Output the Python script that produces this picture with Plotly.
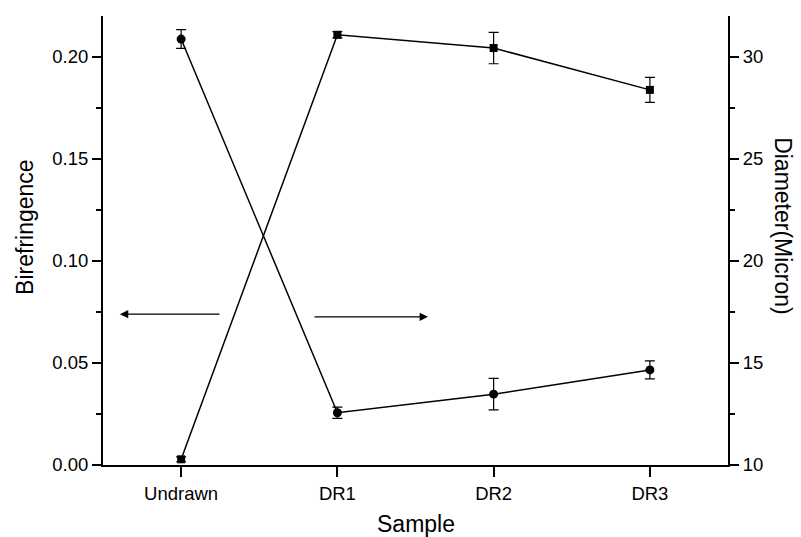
import plotly.graph_objects as go

# Samples along the drawing sequence
samples = ["Undrawn", "DR1", "DR2", "DR3"]

# Birefringence (left axis) with standard deviation
birefringence = [0.2087, 0.0256, 0.0347, 0.0466]
birefringence_err = [0.0046, 0.0028, 0.0077, 0.0044]

# Fibre diameter in microns (right axis) with standard deviation
diameter = [10.28, 31.08, 30.43, 28.38]
diameter_err = [0.12, 0.15, 0.77, 0.61]

FONT = "Liberation Sans, Arial, sans-serif"
TICK_FONT = dict(family=FONT, size=18.5, color="black")

fig = go.Figure()

fig.add_trace(go.Scatter(
    x=samples, y=birefringence, name="Birefringence",
    mode="lines+markers",
    line=dict(color="black", width=1.5),
    marker=dict(symbol="circle", size=9, color="black"),
    error_y=dict(type="data", array=birefringence_err, visible=True,
                 color="black", thickness=1.2, width=5),
    yaxis="y",
))

fig.add_trace(go.Scatter(
    x=samples, y=diameter, name="Diameter",
    mode="lines+markers",
    line=dict(color="black", width=1.5),
    marker=dict(symbol="square", size=8, color="black"),
    error_y=dict(type="data", array=diameter_err, visible=True,
                 color="black", thickness=1.2, width=5),
    yaxis="y2",
))

axis_common = dict(
    showline=True, linewidth=2, linecolor="black",
    showgrid=False, zeroline=False,
    ticks="outside", ticklen=9, tickwidth=2, tickcolor="black",
    tickfont=TICK_FONT,
)

fig.update_layout(
    width=801, height=537,
    margin=dict(l=103, r=73, t=16, b=72),
    paper_bgcolor="white", plot_bgcolor="white",
    showlegend=False,
    font=dict(family=FONT, color="black"),
    xaxis=dict(
        type="category", range=[-0.5, 3.5],
        ticklabelstandoff=1,
        **{**axis_common, "ticklen": 10},
    ),
    yaxis=dict(
        range=[0, 0.22], tick0=0, dtick=0.05, tickformat=".2f",
        minor=dict(ticks="outside", ticklen=5, tickwidth=2,
                   tickcolor="black", dtick=0.025, showgrid=False),
        **axis_common,
    ),
    yaxis2=dict(
        range=[10, 32], tick0=10, dtick=5, side="right", overlaying="y",
        minor=dict(ticks="outside", ticklen=5, tickwidth=2,
                   tickcolor="black", dtick=2.5, showgrid=False),
        **axis_common,
    ),
)

title_font = dict(family=FONT, size=23, color="black")

fig.add_annotation(text="Sample", xref="paper", yref="paper",
                   x=0.5, y=-0.132, showarrow=False,
                   xanchor="center", yanchor="middle", font=title_font)
fig.add_annotation(text="Birefringence", xref="paper", yref="paper",
                   x=-0.125, y=0.53, showarrow=False, textangle=-90,
                   xanchor="center", yanchor="middle", font=title_font)
fig.add_annotation(text="Diameter(Micron)", xref="paper", yref="paper",
                   x=1.088, y=0.532, showarrow=False, textangle=90,
                   xanchor="center", yanchor="middle", font=title_font)

# Arrows pointing each curve to its axis
fig.add_annotation(x=0.027, y=0.336, xref="paper", yref="paper",
                   ax=101, ay=0, text="", showarrow=True,
                   arrowhead=2, arrowsize=1.4, arrowwidth=1.2,
                   arrowcolor="black")
fig.add_annotation(x=0.52, y=0.33, xref="paper", yref="paper",
                   ax=-115, ay=0, text="", showarrow=True,
                   arrowhead=2, arrowsize=1.4, arrowwidth=1.2,
                   arrowcolor="black")

fig.write_html("out.html")
